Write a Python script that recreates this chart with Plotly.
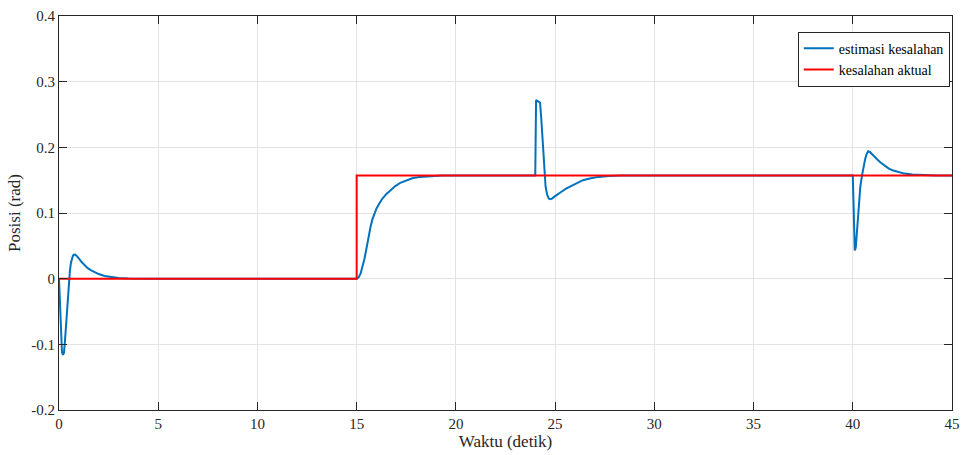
import plotly.graph_objects as go

t_est = [0, 0.05, 0.1, 0.15, 0.2, 0.25, 0.3, 0.35, 0.4, 0.45, 0.5, 0.55, 0.6, 0.65, 0.7, 0.75, 0.81, 0.88, 0.95,
         1.05, 1.15, 1.3, 1.45, 1.6, 1.8, 2.0, 2.3, 2.6, 3.0, 3.5, 4.5,
         15.0, 15.1, 15.2, 15.3, 15.4, 15.5, 15.6, 15.7, 15.8, 15.9, 16.0, 16.15, 16.3, 16.5, 16.7, 16.95,
         17.2, 17.5, 17.8, 18.2, 18.7, 19.3, 20.0,
         24.0, 24.04, 24.14, 24.24, 24.3, 24.38, 24.46, 24.52, 24.6, 24.68, 24.75, 24.85, 24.95, 25.1, 25.3,
         25.55, 25.8, 26.1, 26.4, 26.8, 27.2, 27.7, 28.3,
         40.0, 40.04, 40.1, 40.15, 40.22, 40.3, 40.38, 40.47, 40.55, 40.63, 40.7, 40.78, 40.86, 40.95, 41.1,
         41.25, 41.4, 41.6, 41.8, 42.0, 42.3, 42.6, 43.0, 43.5, 44.2, 45.0]
y_est = [0, -0.045, -0.085, -0.112, -0.116, -0.113, -0.095, -0.07, -0.045, -0.022, -0.004, 0.012, 0.024, 0.031, 0.035, 0.0365, 0.0368, 0.035, 0.033,
         0.029, 0.025, 0.02, 0.016, 0.013, 0.0095, 0.007, 0.0042, 0.0025, 0.0012, 0.0004, 0.0,
         0.0, 0.002, 0.008, 0.018, 0.031, 0.047, 0.064, 0.079, 0.091, 0.1, 0.107, 0.115, 0.122, 0.129, 0.135, 0.141,
         0.146, 0.15, 0.153, 0.155, 0.1563, 0.157, 0.157,
         0.157, 0.272, 0.27, 0.268, 0.245, 0.2, 0.157, 0.14, 0.128, 0.122, 0.121, 0.122, 0.1245, 0.128, 0.132,
         0.137, 0.141, 0.146, 0.15, 0.153, 0.155, 0.1563, 0.157,
         0.157, 0.1, 0.043, 0.047, 0.08, 0.115, 0.14, 0.158, 0.172, 0.183, 0.19, 0.194, 0.193, 0.19, 0.185,
         0.181, 0.177, 0.172, 0.168, 0.165, 0.162, 0.16, 0.1585, 0.1575, 0.157, 0.157]

# Actual error (red)
t_act = [0, 15.0, 15.0, 45.0]
y_act = [0, 0, 0.157, 0.157]

x_ticks = [0, 5, 10, 15, 20, 25, 30, 35, 40, 45]
y_ticks = [-0.2, -0.1, 0, 0.1, 0.2, 0.3, 0.4]
y_tick_labels = ["-0.2", "-0.1", "0", "0.1", "0.2", "0.3", "0.4"]

FONT = "Liberation Serif, Times New Roman, serif"
AX = "#262626"

fig = go.Figure()
fig.add_trace(go.Scatter(x=t_est, y=y_est, mode="lines", name="estimasi kesalahan",
                         line=dict(color="#0072BD", width=2)))
fig.add_trace(go.Scatter(x=t_act, y=y_act, mode="lines", name="kesalahan aktual",
                         line=dict(color="#FF0000", width=2)))

axis_common = dict(showline=True, linecolor=AX, linewidth=1, mirror="ticks",
                   ticks="inside", ticklen=8, tickcolor=AX, tickwidth=1,
                   showgrid=True, gridcolor="#e3e3e3", gridwidth=1, zeroline=False,
                   automargin=False,
                   tickfont=dict(family=FONT, size=15, color=AX))

fig.update_layout(
    width=963, height=455,
    margin=dict(l=59, r=11, t=16, b=45),
    paper_bgcolor="white", plot_bgcolor="white",
    font=dict(family=FONT, color=AX),
    xaxis=dict(range=[0, 45], tickvals=x_ticks, ticktext=[str(v) for v in x_ticks],
               title=dict(text="Waktu (detik)", font=dict(family=FONT, size=17, color=AX), standoff=2),
               **axis_common),
    yaxis=dict(range=[-0.2, 0.4], tickvals=y_ticks, ticktext=y_tick_labels,
               title=dict(text="Posisi (rad)", font=dict(family=FONT, size=17, color=AX), standoff=6),
               **axis_common),
    legend=dict(x=0.9975, y=0.96, xanchor="right", yanchor="top",
                bgcolor="white", bordercolor=AX, borderwidth=1,
                font=dict(family=FONT, size=14, color="black"),
                tracegroupgap=0, itemwidth=30),
    showlegend=True,
)

fig.write_html("out.html")
